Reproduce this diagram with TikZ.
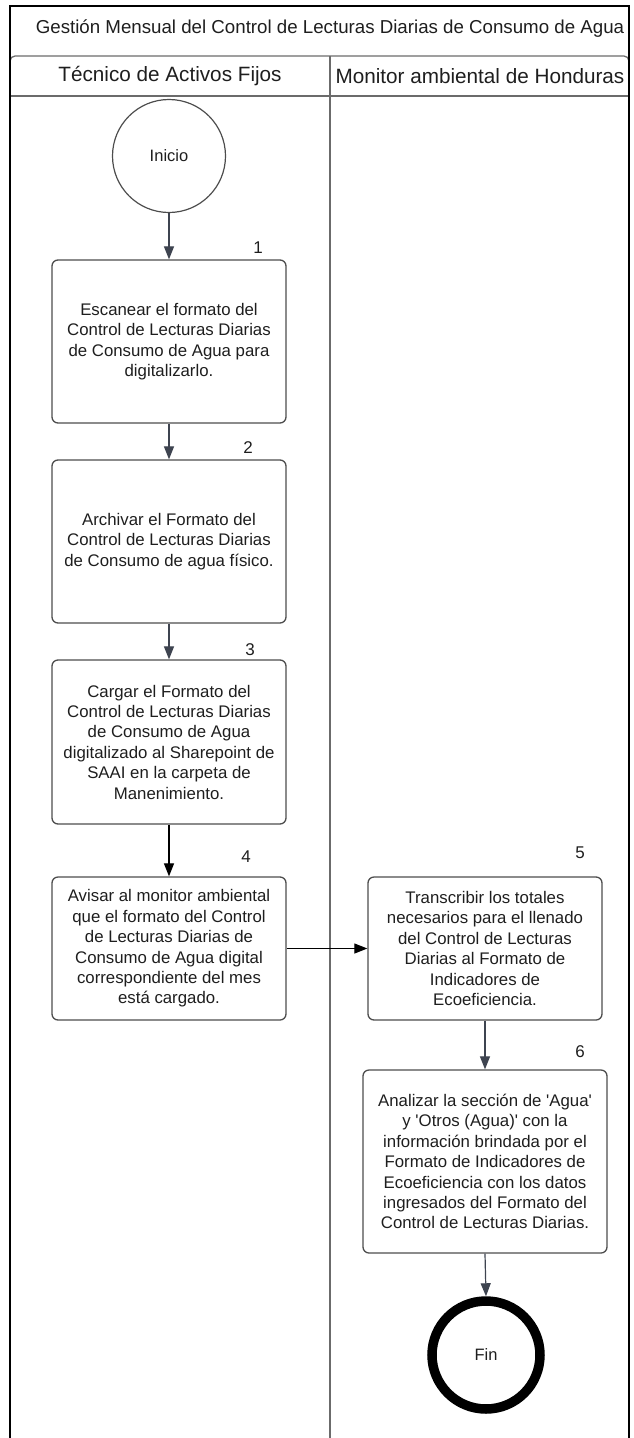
\documentclass[tikz,border=0pt]{standalone}
\usepackage{fontspec}
\setmainfont{Liberation Sans}
\usetikzlibrary{arrows.meta}

\definecolor{boxline}{HTML}{4D4D4D}
\definecolor{arrowgray}{HTML}{3E4450}
\definecolor{laneline}{HTML}{6B6B6B}
\definecolor{ink}{HTML}{1E1E1E}

\newcommand{\sq}{\textquotesingle}

\begin{document}
\begin{tikzpicture}[x=1pt,y=-1pt,
  stepbox/.style={draw=boxline, line width=1.3pt, rounded corners=6pt,
    minimum width=234pt, align=center, text=ink, inner sep=0pt,
    font=\fontsize{16.8}{20.4}\selectfont},
  stepnum/.style={text=ink, inner sep=0pt, font=\fontsize{17}{20}\selectfont},
  flow/.style={draw=arrowgray, line width=1.2pt,
    -{Triangle[length=13pt,width=10pt]}},
  flowdark/.style={draw=black, line width=1.2pt,
    -{Triangle[length=13pt,width=10pt]}},
  startnode/.style={circle, draw=boxline, line width=1.2pt, minimum size=113pt,
    inner sep=0pt, text=ink, font=\fontsize{16.5}{20}\selectfont},
  endnode/.style={circle, draw=black, line width=9.5pt, minimum size=108pt,
    inner sep=0pt, text=ink, font=\fontsize{16.5}{20}\selectfont},
  lanetitle/.style={text=ink, inner sep=0pt, font=\fontsize{20.7}{24}\selectfont},
  pooltitle/.style={text=ink, inner sep=0pt, font=\fontsize{18.7}{22}\selectfont}
]
\useasboundingbox (0,0) rectangle (634,1438);

% pool frame and lane headers
\draw[laneline, line width=1.3pt, rounded corners=5pt]
  (10,96) -- (10,56) -- (629,56) -- (629,96);
\draw[laneline, line width=1.3pt] (10,96) -- (629,96);
\draw[laneline, line width=1.3pt] (330,56) -- (330,1438);
\draw[black, line width=2pt] (10,1438) -- (10,6) -- (629,6) -- (629,1438);

\node[pooltitle] (pool) at (330,29)
  {Gestión Mensual del Control de Lecturas Diarias de Consumo de Agua};
\node[lanetitle] (laneA) at (170,76) {Técnico de Activos Fijos};
\node[lanetitle] (laneB) at (480,76) {Monitor ambiental de Honduras};

% process steps
\node[startnode] (inicio) at (169,156) {Inicio};

\node[stepbox, minimum height=163pt] (s1) at (169,341.5)
  {Escanear el formato del\\Control de Lecturas Diarias\\de Consumo de Agua para\\digitalizarlo.};
\node[stepbox, minimum height=163pt] (s2) at (169,541.5)
  {Archivar el Formato del\\Control de Lecturas Diarias\\de Consumo de agua físico.};
\node[stepbox, minimum height=164pt] (s3) at (169,742)
  {Cargar el Formato del\\Control de Lecturas Diarias\\de Consumo de Agua\\digitalizado al Sharepoint de\\SAAI en la carpeta de\\Manenimiento.};
\node[stepbox, minimum height=143pt] (s4) at (169,948.5)
  {Avisar al monitor ambiental\\que el formato del Control\\de Lecturas Diarias de\\Consumo de Agua digital\\correspondiente del mes\\está cargado.};
\node[stepbox, minimum height=143pt] (s5) at (485,948.5)
  {Transcribir los totales\\necesarios para el llenado\\del Control de Lecturas\\Diarias al Formato de\\Indicadores de\\Ecoeficiencia.};
\node[stepbox, minimum height=183pt, minimum width=244pt] (s6) at (485,1161.5)
  {Analizar la sección de \sq Agua\sq\\y \sq Otros (Agua)\sq{} con la\\información brindada por el\\Formato de Indicadores de\\Ecoeficiencia con los datos\\ingresados del Formato del\\Control de Lecturas Diarias.};

\node[endnode] (fin) at (486,1355) {Fin};

% step numbers
\node[stepnum] (n1) at (258,248) {1};
\node[stepnum] (n2) at (248,448) {2};
\node[stepnum] (n3) at (250,650) {3};
\node[stepnum] (n4) at (246,857) {4};
\node[stepnum] (n5) at (580,853) {5};
\node[stepnum] (n6) at (580,1052) {6};

% connectors
\draw[flow] (inicio.south) -- (s1.north);
\draw[flow] (s1.south) -- (s2.north);
\draw[flow] (s2.south) -- (s3.north);
\draw[flowdark] (s3.south) -- (s4.north);
\draw[flowdark] (s4.east) -- (s5.west);
\draw[flow] (s5.south) -- (s6.north);
\draw[flow] (s6.south) -- (fin.north);
\end{tikzpicture}
\end{document}
